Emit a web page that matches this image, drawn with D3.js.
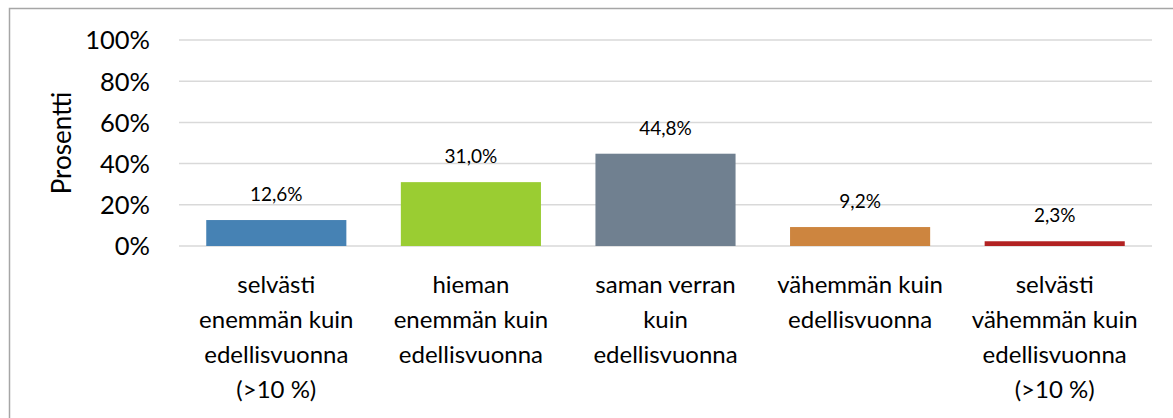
<!DOCTYPE html>
<html>
<head>
<meta charset="utf-8">
<script src="https://cdn.jsdelivr.net/npm/d3@7"></script>
<style>
  body { margin: 0; background: #fff; }
  text { font-family: Lato, "Open Sans", sans-serif; fill: #000; }
</style>
</head>
<body>
<script>
const WIDTH  = 1173;
const HEIGHT = 418;

// Chart data
const categories = [
  ["selvästi", "enemmän kuin", "edellisvuonna", "(>10 %)"],
  ["hieman", "enemmän kuin", "edellisvuonna"],
  ["saman verran", "kuin", "edellisvuonna"],
  ["vähemmän kuin", "edellisvuonna"],
  ["selvästi", "vähemmän kuin", "edellisvuonna", "(>10 %)"]
];
const values     = [12.6, 31.0, 44.8, 9.2, 2.3];
const valueText  = ["12,6%", "31,0%", "44,8%", "9,2%", "2,3%"];
const barColors  = ["#4682b4", "#9acd32", "#708090", "#cd853f", "#b22222"];
const yTicks     = [0, 20, 40, 60, 80, 100];

// Plot area
const PLOT_LEFT = 179, PLOT_RIGHT = 1152, PLOT_TOP = 40, PLOT_BOTTOM = 246;

const svg = d3.select("body").append("svg")
  .attr("width", WIDTH)
  .attr("height", HEIGHT);

// Outer frame of the chart
svg.append("rect")
  .attr("x", 9.5).attr("y", 8.5)
  .attr("width", WIDTH).attr("height", HEIGHT)
  .style("fill", "none")
  .style("stroke", "#a6a6a6")
  .style("stroke-width", 1.5);

const idx = categories.map((d, i) => i);
const xScale = d3.scaleBand().domain(idx).range([PLOT_LEFT, PLOT_RIGHT]).paddingInner(0.28).paddingOuter(0.14);
const yScale = d3.scaleLinear().domain([0, 100]).range([PLOT_BOTTOM, PLOT_TOP]);

// Gridlines
svg.append("g").selectAll("line")
  .data(yTicks)
  .enter().append("line")
    .attr("x1", PLOT_LEFT).attr("x2", PLOT_RIGHT)
    .attr("y1", d => yScale(d)).attr("y2", d => yScale(d))
    .style("stroke", "#d9d9d9")
    .style("stroke-width", 1.5);

// Y axis with percent labels, no domain line or ticks
const yAxis = d3.axisLeft(yScale)
  .tickValues(yTicks)
  .tickSize(0)
  .tickPadding(0)
  .tickFormat(d => d + "%");
const yg = svg.append("g")
  .attr("transform", "translate(150,0)")
  .call(yAxis);
yg.select(".domain").remove();
yg.selectAll("text")
  .style("font-family", "Lato, sans-serif")
  .style("font-size", "25.5px")
  .attr("dy", "0.35em")
  .style("fill", "#000");

// Y axis title
svg.append("text")
  .attr("transform", "rotate(-90)")
  .attr("x", -143)
  .attr("y", 71)
  .style("font-size", "26px")
  .style("text-anchor", "middle")
  .text("Prosentti");

// Bars
svg.selectAll(".bar")
  .data(values)
  .enter().append("rect")
    .attr("class", "bar")
    .attr("x", (d, i) => xScale(i))
    .attr("y", d => yScale(d))
    .attr("width", xScale.bandwidth())
    .attr("height", d => PLOT_BOTTOM - yScale(d))
    .style("fill", (d, i) => barColors[i]);

// Value labels above bars
svg.selectAll(".val")
  .data(values)
  .enter().append("text")
    .attr("class", "val")
    .attr("x", (d, i) => xScale(i) + xScale.bandwidth() / 2)
    .attr("y", d => yScale(d) - 19)
    .style("font-size", "19px")
    .style("text-anchor", "middle")
    .text((d, i) => valueText[i]);

// Category labels, several lines each
const xAxis = d3.axisBottom(xScale).tickSize(0).tickFormat("");
const xg = svg.append("g")
  .attr("transform", "translate(0," + PLOT_BOTTOM + ")")
  .call(xAxis);
xg.select(".domain").remove();
xg.selectAll(".tick").each(function (i) {
  const t = d3.select(this).append("text")
    .style("font-size", "24px")
    .style("text-anchor", "middle")
    .attr("y", 47);
  categories[i].forEach((line, k) => {
    t.append("tspan").attr("x", 0).attr("dy", k === 0 ? 0 : 35).text(line);
  });
});
</script>
</body>
</html>
